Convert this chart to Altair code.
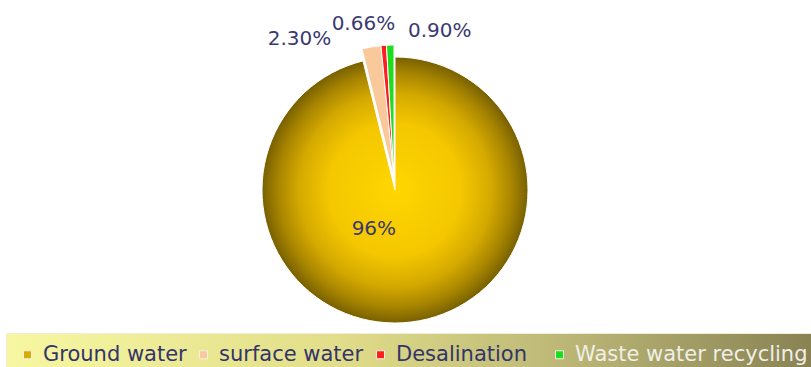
import altair as alt
import pandas as pd

# Water supply sources and their shares (%)
sources = ["Ground water", "surface water", "Desalination", "Waste water recycling"]
shares = [96.0, 2.30, 0.66, 0.90]
share_labels = ["96%", "2.30%", "0.66%", "0.90%"]
slice_colors = ["#d9ab00", "#f9c99b", "#ff1e1e", "#1edc1e"]

df = pd.DataFrame({"source": sources, "share": shares, "label": share_labels})

# keep slices in list order and compute each slice's mid-point for labels
base = (
    alt.Chart(df)
    .transform_window(idx="row_number()")
    .transform_window(cum="sum(share)", sort=[alt.SortField("idx")], frame=[None, 0])
    .transform_calculate(mid="datum.cum - datum.share / 2")
)

theta = alt.Theta("share:Q", stack=True)
order = alt.Order("idx:Q")
R = 133

gold = alt.Gradient(
    gradient="radial",
    stops=[
        alt.GradientStop(offset=0, color="#ffd600"),
        alt.GradientStop(offset=0.5, color="#f4c700"),
        alt.GradientStop(offset=0.72, color="#d5aa00"),
        alt.GradientStop(offset=0.88, color="#a88500"),
        alt.GradientStop(offset=1, color="#776000"),
    ],
)

main_slice = base.mark_arc(outerRadius=R, fill=gold, stroke="white", strokeWidth=1).encode(
    theta=theta,
    order=order,
    detail="source:N",
    opacity=alt.condition(alt.datum.source == sources[0], alt.value(1), alt.value(0)),
)

band = (
    "{gradient: 'linear', x1: 0, y1: 0, x2: 1, y2: 0, stops: ["
    "{offset: 0, color: '#f7f7a2'}, {offset: 0.4, color: '#e2de8a'}, "
    "{offset: 0.7, color: '#bab575'}, {offset: 1, color: '#878052'}]}"
)

# a blank (non-trimmed) glyph widens the gap after "Desalination"
legend = alt.Legend(
    title=None,
    orient="none",
    legendX=6,
    legendY=320,
    direction="horizontal",
    columns=4,
    symbolType="square",
    symbolSize=64,
    symbolStrokeColor="#f2f2e2",
    symbolStrokeWidth=1,
    labelFont="DejaVu Sans",
    labelFontSize=21,
    labelColor=alt.ExprRef("datum.label == 'Waste water recycling' ? '#efefe8' : '#34346a'"),
    labelExpr="datum.label == 'Desalination' ? datum.label + '\u2800' : datum.label",
    labelLimit=400,
    labelOffset=5,
    columnPadding=6,
    padding=11,
    fillColor=alt.ExprRef(band),
    strokeColor="#eeeed6",
)

exploded = base.mark_arc(
    outerRadius=R, stroke="white", strokeWidth=1, xOffset=-1, yOffset=-12
).encode(
    theta=theta,
    order=order,
    color=alt.Color("source:N", scale=alt.Scale(domain=sources, range=slice_colors), legend=legend),
    opacity=alt.condition(alt.datum.source != sources[0], alt.value(1), alt.value(0)),
)


def pct_label(i, radius, dx, dy):
    return (
        base.transform_filter(alt.datum.source == sources[i])
        .mark_text(radius=radius, dx=dx, dy=dy, font="DejaVu Sans", fontSize=20, color="#3a3a70")
        .encode(theta=alt.Theta("mid:Q", stack=None), text="label:N")
    )


labels = [
    pct_label(0, 40, -26, -1),
    pct_label(1, 150, -70, -3),
    pct_label(2, 150, -20, -16),
    pct_label(3, 150, 49, -9),
]

chart = (
    alt.layer(main_slice, exploded, *labels)
    .properties(
        width=790,
        height=354,
        padding={"left": 0, "top": 13, "right": 21, "bottom": 0},
        autosize=alt.AutoSizeParams(type="none"),
    )
    .configure_view(stroke=None)
)

chart.save("out.html", embed_options={"renderer": "svg", "actions": False})
